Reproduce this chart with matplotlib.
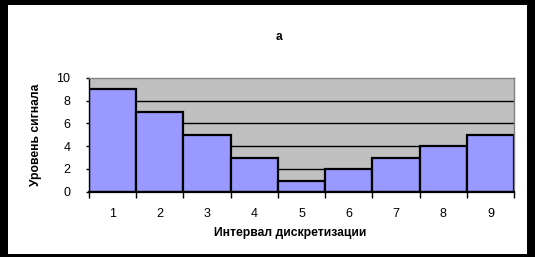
import matplotlib
matplotlib.use('Agg')
import matplotlib.pyplot as plt
from matplotlib.patches import Rectangle
import numpy as np

intervals = [1, 2, 3, 4, 5, 6, 7, 8, 9]
levels = [9, 7, 5, 3, 0.9, 2, 3, 4, 5]
y_ticks = [0, 2, 4, 6, 8, 10]

plt.rcParams['font.family'] = ['Liberation Sans', 'DejaVu Sans']

W, H = 535., 257.
fig = plt.figure(figsize=(W / 100, H / 100), dpi=100)
fig.patch.set_facecolor('black')
# white inner panel inside the black frame
fig.patches.append(Rectangle((8 / W, 3 / H), 519 / W, 249 / H,
                             transform=fig.transFigure, facecolor='white',
                             edgecolor='none', zorder=-1))

ax = fig.add_axes([89 / W, 1 - 191.7 / H, (514 - 89) / W, (191.7 - 77.7) / H])
ax.set_facecolor('#c0c0c0')

for y in y_ticks[1:-1]:
    ax.axhline(y, color='black', lw=1, zorder=1)

ax.bar(intervals, levels, width=1.0, color='#9999ff', edgecolor='black',
       linewidth=1.6, zorder=2)

ax.set_xlim(0.5, 9.5)
ax.set_ylim(0, 10)
ax.set_yticks(y_ticks)
ax.set_xticks(intervals)
ax.set_xticks(np.arange(0.5, 10, 1.0), minor=True)
ax.tick_params(axis='x', which='major', length=0, pad=12, labelsize=9)
ax.tick_params(axis='x', which='minor', length=4, width=1, direction='out')
ax.tick_params(axis='y', length=2.5, width=1, labelsize=9, pad=11)

for s in ['top', 'right']:
    ax.spines[s].set_color('#808080')
    ax.spines[s].set_linewidth(1)
ax.spines['left'].set_linewidth(1)
ax.spines['bottom'].set_linewidth(1.6)
ax.spines['bottom'].set_zorder(3)

ax.set_xlabel('Интервал дискретизации', fontsize=8.7, fontweight='bold')
ax.xaxis.set_label_coords((290.5 - 89) / 425, -(233 - 191.7) / 114, transform=ax.transAxes)
ax.xaxis.label.set_va('center')
ax.set_ylabel('Уровень сигнала', fontsize=8.7, fontweight='bold')
ax.yaxis.set_label_coords(-(89 - 36.5) / 425, 0.5, transform=ax.transAxes)
ax.yaxis.label.set_va('center')
fig.text(279 / W, 1 - 37 / H, 'а', fontsize=8.7, fontweight='bold',
         ha='center', va='center')

fig.savefig('out.png', dpi=100, facecolor=fig.get_facecolor())
